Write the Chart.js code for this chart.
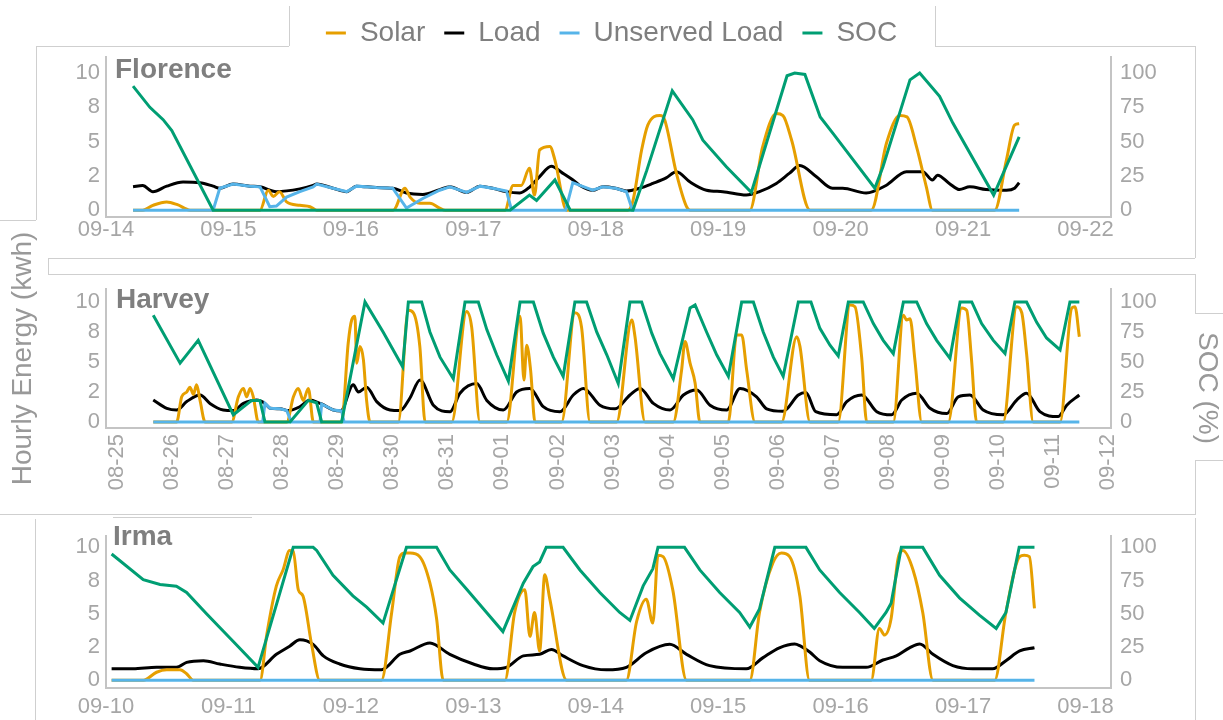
<!DOCTYPE html>
<html>
<head>
<meta charset="utf-8">
<script src="https://cdn.jsdelivr.net/npm/chart.js@4.4.1/dist/chart.umd.min.js"></script>
<style>
  html, body { margin: 0; padding: 0; background: #fff; }
  #page { position: relative; width: 1223px; height: 720px; overflow: hidden; background: #fff; }
  .ln { position: absolute; background: #cfcfcf; }
  canvas { position: absolute; left: 0; }
  #socTitle {
    position: absolute; left: 1194px; top: 332px;
    writing-mode: vertical-rl; white-space: nowrap;
    font-family: "Liberation Sans", Arial, sans-serif; font-size: 28px; line-height: 28px;
    color: #999;
  }
</style>
</head>
<body>
<div id="page">
  <!-- panel frames -->
  <div class="ln" style="left:289px;top:6px;width:1px;height:40px"></div>
  <div class="ln" style="left:935px;top:6px;width:1px;height:40px"></div>
  <div class="ln" style="left:36px;top:46px;width:253px;height:1px"></div>
  <div class="ln" style="left:935px;top:46px;width:260px;height:1px"></div>
  <div class="ln" style="left:36px;top:46px;width:1px;height:174px"></div>
  <div class="ln" style="left:0;top:220px;width:36px;height:1px"></div>
  <div class="ln" style="left:1195px;top:46px;width:1px;height:212px"></div>
  <div class="ln" style="left:48px;top:258px;width:1147px;height:1px"></div>
  <div class="ln" style="left:48px;top:258px;width:1px;height:16px"></div>
  <div class="ln" style="left:48px;top:274px;width:1147px;height:1px"></div>
  <div class="ln" style="left:1195px;top:274px;width:1px;height:39px"></div>
  <div class="ln" style="left:1195px;top:313px;width:28px;height:1px"></div>
  <div class="ln" style="left:1195px;top:460px;width:28px;height:1px"></div>
  <div class="ln" style="left:1195px;top:460px;width:1px;height:55px"></div>
  <div class="ln" style="left:0;top:514px;width:1195px;height:1px"></div>
  <div class="ln" style="left:113px;top:517px;width:139px;height:1px"></div>
  <div class="ln" style="left:35px;top:519px;width:1px;height:201px"></div>
  <div class="ln" style="left:1195px;top:518px;width:1px;height:202px"></div>

  <canvas id="florence" width="1223" height="260" style="top:0"></canvas>
  <canvas id="harvey" width="1223" height="314" style="top:200px"></canvas>
  <canvas id="irma" width="1223" height="206" style="top:514px"></canvas>
  <div id="socTitle">SOC (%)</div>
</div>

<script>
// x values are hours since the first tick date of each panel
const florenceDays = ['09-14', '09-15', '09-16', '09-17', '09-18', '09-19', '09-20', '09-21', '09-22'];
const harveyDays = ['08-25', '08-26', '08-27', '08-28', '08-29', '08-30', '08-31', '09-01', '09-02', '09-03',
  '09-04', '09-05', '09-06', '09-07', '09-08', '09-09', '09-10', '09-11', '09-12'];
const irmaDays = ['09-10', '09-11', '09-12', '09-13', '09-14', '09-15', '09-16', '09-17', '09-18'];

const energyTicks = [0, 2.5, 5, 7.5, 10];
const energyTickLabels = ['0', '2', '5', '8', '10'];
const socTicks = [0, 25, 50, 75, 100];

const seriesNames = ['Solar', 'Load', 'Unserved Load', 'SOC'];

// Florence
const florenceSolar = [
  [5.3, 0], [7.2, 0], [9.2, 0.35], [11.9, 0.6], [14, 0.4], [16.5, 0],
  [30.2, 0], [31.8, 1.45], [32.8, 1.0], [34, 1.35], [35.4, 0.6], [38, 0.35], [40, 0.25], [41.3, 0],
  [56.3, 0], [58.6, 1.6], [59.6, 0.95], [61.5, 0.5], [63.5, 0.5], [65.4, 0.15], [66.5, 0],
  [78.2, 0], [79.8, 1.8], [81.4, 1.8], [83, 3.05], [84, 1.1], [85, 4.4], [87, 4.65], [88, 3.65], [90.3, 0],
  [102.3, 0], [103.3, 0.7], [105, 4.4], [106.2, 6.2], [108.6, 6.9], [109.5, 6.6], [111.8, 2.7], [113.8, 0.25], [114.5, 0],
  [126.2, 0], [128.7, 4.6], [131.4, 7.05], [132.7, 6.9], [134.4, 5.1], [138, 0],
  [150, 0], [153, 4.9], [155.6, 6.9], [157, 6.8], [158.9, 4.6], [160.8, 1.7], [162, 0],
  [174.2, 0], [176.5, 3.65], [178.1, 6.2], [179, 6.3]
];
const florenceLoad = [
  [5.3, 1.7], [7.2, 1.8], [9.2, 1.35], [11.9, 1.75], [15.1, 2.05], [18.4, 2.0], [21, 1.75], [22.3, 1.6],
  [24.9, 1.9], [28.2, 1.75], [30.2, 1.7], [33.4, 1.35], [38, 1.55], [40.6, 1.8],
  [41.3, 1.9], [44.5, 1.6], [47.2, 1.35], [49.1, 1.75], [53, 1.65], [56.2, 1.6],
  [58.9, 1.25], [62.1, 1.15], [65.4, 1.5], [67.4, 1.7], [70.7, 1.3], [73.3, 1.75], [75.8, 1.6], [78.4, 1.35],
  [81.1, 1.25], [83.1, 1.7], [85, 2.45], [87.3, 3.2], [89.5, 2.7], [91.9, 2.1],
  [92.9, 1.8], [95.4, 1.45], [97.4, 1.7], [99.9, 1.6], [102, 1.4],
  [104.6, 1.6], [107.2, 1.95], [109.8, 2.35], [111.8, 2.8], [114.5, 2.05], [117.7, 1.45], [120.9, 1.35], [125.5, 1.1],
  [128.1, 1.35], [131.4, 1.95], [134, 2.7], [136, 3.25], [139.2, 2.45], [142.4, 1.6], [144.4, 1.6], [149, 1.25],
  [152.9, 1.8], [156.9, 2.8], [160.1, 2.8], [162, 2.2], [163, 2.55], [165.3, 1.95], [167.3, 1.5], [169.3, 1.7],
  [172.5, 1.5], [176.5, 1.45], [178.1, 1.6], [179, 2.0]
];
const florenceUnserved = [
  [5.3, 0], [21, 0], [22.3, 1.6], [24.9, 1.9], [28.2, 1.75], [30.2, 1.7], [32.1, 0.25], [33.4, 0.3], [35.4, 0.95],
  [38, 1.35], [40.6, 1.7], [41.3, 1.9], [44.5, 1.6], [47.2, 1.35], [49.1, 1.75], [53, 1.65], [56.2, 1.6],
  [58.9, 0.15], [62.1, 0.85], [65.4, 1.45], [67.4, 1.7], [70.7, 1.3], [73.3, 1.75], [75.8, 1.6], [78.5, 1.4],
  [79.5, 0], [90.1, 0], [91.5, 2.0], [92.9, 1.8], [95.4, 1.45], [97.4, 1.7], [99.9, 1.6], [102, 1.35], [103.2, 0], [179, 0]
];
const florenceSoc = [
  [5.3, 90.5], [8.6, 75], [11.2, 66], [12.9, 58], [21, 0], [79.2, 0], [83, 11], [84.4, 7], [88, 22], [91, 0],
  [103.3, 0], [106, 29], [111, 87], [115, 66], [117, 51], [121.6, 31.6], [126.5, 13], [133.5, 98], [135, 100],
  [137, 99], [140, 68], [142.5, 56], [150.7, 16], [152.3, 31.6], [157.6, 95], [159.5, 100], [163.4, 83],
  [166, 63.5], [174, 11], [179, 53.5]
];

// Harvey
const harveySolar = [
  [15.8, 0], [26, 0], [28.2, 2.1], [30.4, 2.5], [31.8, 2.9], [33.3, 2.3], [34.7, 3.1], [36.2, 1.8], [38.4, 0],
  [50, 0], [52.9, 2.1], [55.1, 2.8], [56.5, 2.1], [58, 2.8], [59.4, 2.1], [61.6, 0],
  [74, 0], [76.9, 2.1], [79, 2.8], [81.2, 1.8], [83.4, 2.8], [85.6, 0],
  [97.9, 0], [100.8, 6.6], [102.3, 8.5], [103.7, 8.8], [104.5, 4.9], [105.9, 6.3], [107.4, 5.2], [108.8, 1.8], [110.3, 0],
  [122.6, 0], [127, 9.3], [129.2, 9.1], [132, 6.3], [134.3, 0],
  [145.9, 0], [152.4, 9.2], [154.6, 7.9], [158.2, 0],
  [169.9, 0], [175.7, 8.8], [177.4, 3.5], [178.6, 6.4], [180.3, 4.3], [182.2, 0],
  [193.8, 0], [199.6, 9.1], [202.5, 7.9], [206.2, 0],
  [217.8, 0], [224.4, 8.5], [225.8, 7.1], [230.2, 0],
  [242.5, 0], [246.1, 4.3], [247.6, 6.7], [249.8, 4.9], [252, 3.25], [254.1, 0],
  [266.5, 0], [270.1, 7.25], [272.3, 7.25], [274.5, 4.3], [278.1, 0],
  [289.7, 0], [296.3, 7.1], [297.7, 6.3], [302.1, 0],
  [314.4, 0], [319.5, 9.75], [321.7, 9.6], [324.6, 5.4], [326.8, 0],
  [338.4, 0], [342.8, 8.9], [344.2, 8.5], [345.7, 8.6], [347.8, 5.2], [350.8, 0],
  [362.4, 0], [368.2, 9.5], [370.4, 9.3], [372.5, 5.2], [374.7, 0],
  [386.3, 0], [392.2, 9.6], [394.4, 9.1], [396.5, 5.7], [399.4, 0],
  [411.1, 0], [416.2, 9.5], [417.6, 9.6], [419.5, 7.1]
];
const harveyLoad = [
  [15.8, 1.83], [21.7, 1.14], [26, 1.0], [30.4, 1.7], [36.2, 2.25], [40.5, 1.55], [46.3, 1.0], [50.7, 0.95],
  [55.1, 1.55], [60.9, 1.83], [64.5, 1.55], [66.7, 1.15], [71.1, 1.1], [74.7, 0.95], [79.8, 1.28], [84.1, 1.83],
  [88.5, 1.55], [89.2, 1.5], [94.3, 1.0], [97.9, 0.92], [98.6, 1.14],
  [103, 3.1], [105.2, 2.5], [108.8, 2.9], [113.2, 1.7], [119, 1.0], [123.4, 0.95], [127.7, 2.0], [132.1, 3.5],
  [137.9, 1.4], [145.2, 0.86], [149.5, 2.4], [156.8, 3.2], [161.2, 1.8], [168.4, 1.0], [174.2, 2.5], [180, 2.8],
  [185.8, 1.28], [193.1, 0.86], [198.9, 2.25], [203.3, 2.8], [210.5, 1.4], [217.1, 1.1], [223.6, 2.25], [228, 2.8],
  [233.8, 1.55], [241.1, 1.0], [246.9, 2.25], [252.7, 2.67], [258.5, 1.4], [265.8, 1.0], [271.6, 2.8], [278.8, 2.1],
  [283.2, 1.1], [290.4, 0.9], [297, 2.25], [300.3, 2.45], [304.6, 0.86], [313.7, 0.6], [318.1, 1.7], [324.6, 2.25],
  [331.2, 0.86], [337.7, 0.6], [342.1, 1.83], [348.6, 2.4], [354.4, 1.14], [361.7, 0.7], [366.7, 2.1], [371.8, 2.25],
  [377.6, 1.0], [386.3, 0.6], [392.2, 1.83], [396.5, 2.4], [402.3, 0.86], [410.3, 0.45], [414, 1.4], [419.5, 2.25]
];
const harveyUnserved = [
  [15.8, 0], [63.5, 0], [64.5, 1.55], [66.7, 1.15], [71.1, 1.1], [74, 0.95], [76, 0],
  [88.5, 0], [89.2, 1.5], [94.3, 1.0], [97.9, 0.92], [99, 0], [419.5, 0]
];
const harveySoc = [
  [15.8, 89], [27.5, 49], [35.4, 68], [50.7, 6], [58.7, 18], [62.3, 18], [64.5, 0], [75.4, 0], [83.4, 18],
  [87, 16], [89.2, 0], [97.9, 0],
  [108.1, 100], [116, 75], [124.5, 46], [127, 100], [132.8, 100], [136.4, 75], [140.8, 54], [146.6, 36],
  [151.7, 100], [157.5, 100], [161.2, 77], [165.5, 56], [170.6, 34],
  [175.7, 100], [181.5, 100], [185.8, 74], [190.2, 54], [194.5, 38],
  [199.6, 100], [204.7, 100], [209.1, 75], [213.5, 56], [218.5, 32],
  [223.6, 100], [228.7, 100], [233.1, 74], [236.7, 57], [242.5, 36],
  [249.8, 95], [252, 97.5], [257, 75], [261.4, 56], [266.5, 38],
  [272.3, 100], [277.4, 100], [281.7, 75], [286.1, 54], [290.4, 38],
  [297, 100], [302.5, 100], [306.4, 78], [310.8, 64], [314.4, 55],
  [318.8, 100], [325.3, 100], [329.7, 82], [334, 68], [338.4, 57],
  [342.8, 100], [348.6, 100], [352.9, 82], [357.3, 68], [363.1, 53],
  [367.5, 100], [372.6, 100], [376.9, 82], [382, 68], [387.1, 57],
  [391.4, 100], [396.5, 100], [400.9, 83], [405.2, 70], [411.1, 60],
  [415.4, 100], [419.5, 100]
];

// Irma
const irmaSolar = [
  [1.1, 0], [7.3, 0], [9.9, 0.6], [11.9, 0.78], [14.5, 0.78], [15.8, 0.49], [17.1, 0],
  [30.2, 0], [31.5, 3.4], [33.4, 7.1], [34.7, 8.3], [36, 9.77], [36.7, 9.7], [37.7, 6.8], [38.6, 6.35], [40.3, 2.7], [41.9, 0],
  [54, 0], [56, 5.1], [57.6, 9.3], [58.6, 9.57], [59.6, 9.57], [61.5, 9.3], [63.5, 7.3], [64.8, 4.64], [66.1, 0],
  [78.2, 0], [80.1, 5.1], [82.1, 6.8], [83.1, 3.3], [84, 5.1], [85, 2.2], [86, 7.93], [87, 6.1], [90.3, 0],
  [102, 0], [104, 4.4], [105.9, 6.1], [107.2, 4.3], [108.2, 9.4], [109.2, 9.3], [111.1, 6.8], [113.8, 0],
  [126.2, 0], [128.1, 5.1], [130.7, 8.8], [132.4, 9.57], [134, 9.3], [136, 6.35], [137.9, 0],
  [150, 0], [151.6, 3.9], [152.6, 3.4], [153.9, 4.64], [155.2, 9.03], [156.2, 9.77], [158.2, 8.3], [160.1, 5.1], [162.1, 0],
  [174.2, 0], [176.4, 5.1], [179.1, 9.3], [180, 9.4], [181, 9.3], [182, 5.4]
];
const irmaLoad = [
  [1.1, 0.86], [5.3, 0.86], [9.9, 0.97], [13.8, 0.97], [15.8, 1.34], [19.1, 1.47], [22.3, 1.22], [26.2, 0.97], [29.8, 0.86],
  [33.4, 1.95], [36, 2.56], [38, 3.05], [40.6, 2.7], [42.6, 1.83], [45.8, 1.22], [49.8, 0.86], [54, 0.78],
  [57.6, 1.95], [59.6, 2.2], [63.5, 2.8], [67.4, 1.95], [72, 1.22], [75.9, 0.86], [78.5, 0.97], [81.8, 1.83],
  [85, 1.95], [87.3, 2.32], [89.6, 1.83], [93.5, 1.1], [98.1, 0.78],
  [102, 0.97], [105.9, 2.07], [110.5, 2.7], [113.8, 1.95], [118.3, 1.1], [125.5, 0.86], [128.8, 1.7], [132, 2.44],
  [135, 2.73], [136, 2.6], [138, 2.1], [139.9, 1.47], [144.4, 0.97], [149, 0.97], [152.3, 1.52], [154.9, 1.83],
  [157.5, 2.44], [159.5, 2.73], [162.1, 1.95], [166, 1.1], [169.9, 0.86], [173.8, 0.86], [176.4, 1.47], [179.1, 2.2], [182, 2.44]
];
const irmaUnserved = [[1.1, 0], [182, 0]];
const irmaSoc = [
  [1.1, 95], [7.3, 75.7], [10.6, 72], [13.8, 70.8], [15.8, 66], [19.7, 50], [24.9, 29.3], [29.8, 9.7],
  [36.7, 100], [40.6, 100], [41.3, 97.7], [44.5, 79], [48.4, 63.5], [51.1, 55], [54.3, 43],
  [58.9, 100], [64.8, 100], [67.4, 83], [70.7, 68.4], [74.6, 51], [77.8, 36.6],
  [81.8, 73], [83.7, 85.5], [85, 89], [86.3, 100], [89.6, 100], [92.9, 83], [96.8, 66], [100.7, 51], [102.7, 45],
  [105.3, 71], [107.2, 84], [108.2, 100], [113.4, 100], [116.4, 83], [120.3, 66], [124.2, 51], [126.2, 40],
  [128.1, 53.7], [131.1, 100], [137.2, 100], [139.9, 83], [143.8, 66], [147.7, 51], [150.6, 39],
  [152.9, 51], [153.9, 58], [155.9, 100], [160.1, 100], [163.4, 79], [167.3, 62], [171.2, 49], [174.5, 39],
  [176.4, 51], [179, 100], [182, 100]
];

const colors = {
  solar: '#E69F00',
  load: '#000000',
  unserved: '#56B4E9',
  soc: '#009E73',
  axis: '#c4c4c4',
  tick: '#a6a6a6',
  text: '#7f7f7f'
};

Chart.defaults.font.family = '"Liberation Sans", Arial, sans-serif';

// panel name written in the top-left corner of each plot
const panelTitle = {
  id: 'panelTitle',
  afterDraw(chart, args, opts) {
    const ctx = chart.ctx;
    ctx.save();
    ctx.font = 'bold 28px "Liberation Sans", Arial, sans-serif';
    ctx.fillStyle = colors.text;
    ctx.textBaseline = 'alphabetic';
    ctx.fillText(opts.text, chart.chartArea.left + opts.dx, opts.y);
    ctx.restore();
  }
};

function makeDatasets(solar, load, unserved, soc) {
  const lineColors = [colors.solar, colors.load, colors.unserved, colors.soc];
  const order = [2, 3, 1, 0];
  return [solar, load, unserved, soc].map((d, i) => ({
    label: seriesNames[i],
    data: d,
    yAxisID: i === 3 ? 'y1' : 'y',
    borderColor: lineColors[i],
    backgroundColor: lineColors[i],
    borderWidth: 3,
    pointRadius: 0,
    cubicInterpolationMode: i < 2 ? 'monotone' : 'default',
    tension: 0,
    order: order[i]
  }));
}

function makeChart(id, p) {
  const axisBorder = { display: true, color: colors.axis, width: 2 };
  const noGrid = { display: false, drawTicks: false };
  return new Chart(document.getElementById(id), {
    type: 'line',
    data: { datasets: makeDatasets(p.solar, p.load, p.unserved, p.soc) },
    plugins: [panelTitle],
    options: {
      responsive: false,
      animation: false,
      devicePixelRatio: 1,
      events: [],
      layout: { padding: { left: 0, right: 0, top: p.padTop, bottom: 0 } },
      plugins: {
        tooltip: { enabled: false },
        panelTitle: p.title,
        legend: {
          display: p.legend,
          position: 'top',
          labels: {
            usePointStyle: true,
            pointStyle: 'line',
            pointStyleWidth: 20,
            padding: 19,
            color: colors.text,
            font: { size: 28 },
            sort: (a, b) => a.datasetIndex - b.datasetIndex
          }
        }
      },
      scales: {
        x: {
          type: 'linear',
          min: p.xMin,
          max: p.xMax,
          afterBuildTicks: (s) => { s.ticks = p.days.map((d, i) => ({ value: i * 24 })); },
          afterFit: (s) => { s.height = p.xHeight; },
          grid: noGrid,
          border: axisBorder,
          ticks: {
            autoSkip: false,
            padding: p.xPad,
            color: colors.tick,
            font: { size: 22 },
            minRotation: p.rot,
            maxRotation: p.rot,
            callback: (v, i) => p.days[i]
          }
        },
        y: {
          position: 'left',
          min: p.yMin,
          max: p.yMax,
          afterBuildTicks: (s) => { s.ticks = energyTicks.map(v => ({ value: v })); },
          afterFit: (s) => { s.width = 106; },
          grid: noGrid,
          border: axisBorder,
          title: p.yTitle || { display: false },
          ticks: {
            padding: 6,
            color: colors.tick,
            font: { size: 22 },
            callback: (v, i) => energyTickLabels[i]
          }
        },
        y1: {
          position: 'right',
          min: p.yMin * 10,
          max: p.yMax * 10,
          afterBuildTicks: (s) => { s.ticks = socTicks.map(v => ({ value: v })); },
          afterFit: (s) => { s.width = 112; },
          grid: noGrid,
          border: axisBorder,
          ticks: {
            padding: 9,
            color: colors.tick,
            font: { size: 22 },
            callback: (v, i) => String(socTicks[i])
          }
        }
      }
    }
  });
}

makeChart('florence', {
  solar: florenceSolar, load: florenceLoad, unserved: florenceUnserved, soc: florenceSoc,
  days: florenceDays, xMin: 0, xMax: 197, xHeight: 43, xPad: 0, rot: 0,
  yMin: -0.5, yMax: 11.17, padTop: 0, legend: true,
  title: { text: 'Florence', dx: 9, y: 78 }
});

makeChart('harvey', {
  solar: harveySolar, load: harveyLoad, unserved: harveyUnserved, soc: harveySoc,
  days: harveyDays, xMin: -4.8, xMax: 433.3, xHeight: 86, xPad: 6, rot: 90,
  yMin: -0.5, yMax: 11.08, padTop: 89, legend: false,
  title: { text: 'Harvey', dx: 10, y: 108 },
  yTitle: {
    display: true,
    text: 'Hourly Energy (kwh)',
    color: '#999',
    font: { size: 28 },
    padding: { top: 6, bottom: 0 }
  }
});

makeChart('irma', {
  solar: irmaSolar, load: irmaLoad, unserved: irmaUnserved, soc: irmaSoc,
  days: irmaDays, xMin: 0, xMax: 197, xHeight: 32, xPad: 6, rot: 0,
  yMin: -0.586, yMax: 10.84, padTop: 18, legend: false,
  title: { text: 'Irma', dx: 7, y: 31 }
});
</script>
</body>
</html>
